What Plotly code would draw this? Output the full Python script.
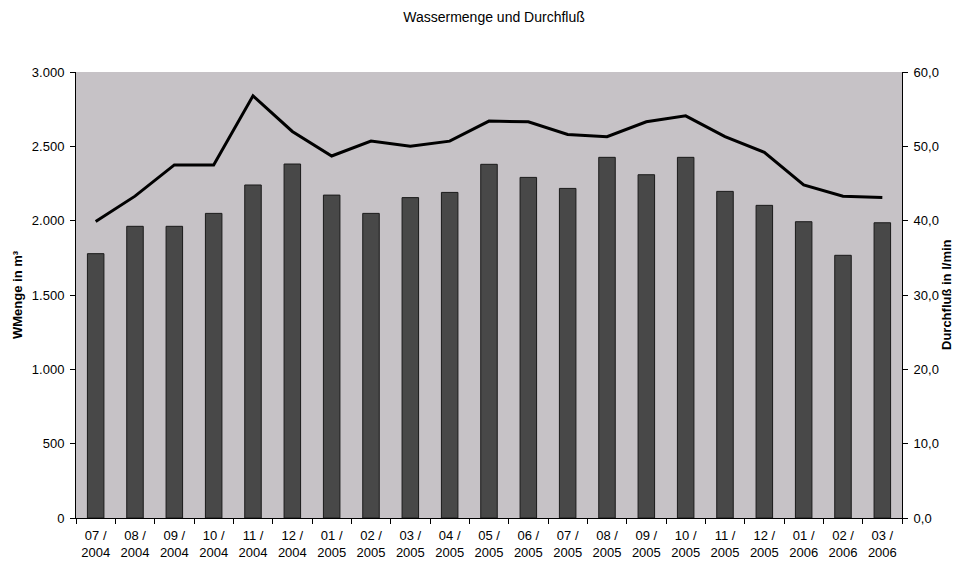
import plotly.graph_objects as go

months = ["07 /<br>2004", "08 /<br>2004", "09 /<br>2004", "10 /<br>2004", "11 /<br>2004", "12 /<br>2004",
          "01 /<br>2005", "02 /<br>2005", "03 /<br>2005", "04 /<br>2005", "05 /<br>2005", "06 /<br>2005",
          "07 /<br>2005", "08 /<br>2005", "09 /<br>2005", "10 /<br>2005", "11 /<br>2005", "12 /<br>2005",
          "01 /<br>2006", "02 /<br>2006", "03 /<br>2006"]
wmenge = [1778, 1962, 1962, 2049, 2240, 2381, 2172, 2049, 2155, 2190, 2379,
          2291, 2217, 2426, 2309, 2426, 2197, 2103, 1993, 1767, 1986]
durchfluss = [39.9, 43.3, 47.5, 47.5, 56.8, 52.0, 48.7, 50.7, 50.0, 50.7, 53.4,
              53.3, 51.6, 51.3, 53.3, 54.1, 51.3, 49.2, 44.8, 43.3, 43.1]

left_ticks = [0, 500, 1000, 1500, 2000, 2500, 3000]
left_labels = ["0", "500", "1.000", "1.500", "2.000", "2.500", "3.000"]
right_ticks = [0, 10, 20, 30, 40, 50, 60]
right_labels = ["0,0", "10,0", "20,0", "30,0", "40,0", "50,0", "60,0"]

font = "Liberation Sans, Arial, sans-serif"

fig = go.Figure()
fig.add_trace(go.Bar(x=months, y=wmenge, marker=dict(color="#484848", line=dict(color="#1a1a1a", width=1)),
                     name="WMenge", yaxis="y"))
fig.add_trace(go.Scatter(x=months, y=durchfluss, mode="lines", line=dict(color="black", width=3),
                         name="Durchfluß", yaxis="y2"))

fig.update_layout(
    width=954, height=558,
    margin=dict(l=68, r=60, t=64, b=48, autoexpand=False),
    paper_bgcolor="white",
    plot_bgcolor="#c6c2c6",
    showlegend=False,
    bargap=0.58,
    font=dict(family=font, size=13, color="black"),
    title=dict(text="Wassermenge und Durchfluß", x=486 / 954, xanchor="center", xref="container",
               y=1 - 9 / 558, yanchor="middle", yref="container",
               font=dict(family=font, size=14, color="black")),
    xaxis=dict(showline=True, linecolor="black", linewidth=1, ticks="outside", tickson="boundaries",
               ticklen=5, tickcolor="black", showgrid=False, tickfont=dict(size=13), automargin=False,
               ticklabelstandoff=5),
    yaxis=dict(range=[0, 3000], tickvals=left_ticks, ticktext=left_labels, showline=True, linecolor="black",
               ticks="outside", ticklen=5, tickcolor="black", showgrid=False, zeroline=False,
               automargin=False, ticklabelstandoff=3),
    yaxis2=dict(range=[0, 60], tickvals=right_ticks, ticktext=right_labels, overlaying="y", side="right",
                showline=True, linecolor="black", ticks="outside", ticklen=5, tickcolor="black",
                showgrid=False, zeroline=False, automargin=False, ticklabelstandoff=3),
    annotations=[
        dict(text="<b>WMenge in m³</b>", xref="paper", yref="paper", x=-59 / 826, y=0.5,
             xanchor="center", yanchor="middle", textangle=-90, showarrow=False,
             font=dict(family=font, size=13)),
        dict(text="<b>Durchfluß in l/min</b>", xref="paper", yref="paper", x=1 + 44 / 826, y=0.5,
             xanchor="center", yanchor="middle", textangle=-90, showarrow=False,
             font=dict(family=font, size=13)),
    ],
)

fig.write_html("out.html")
